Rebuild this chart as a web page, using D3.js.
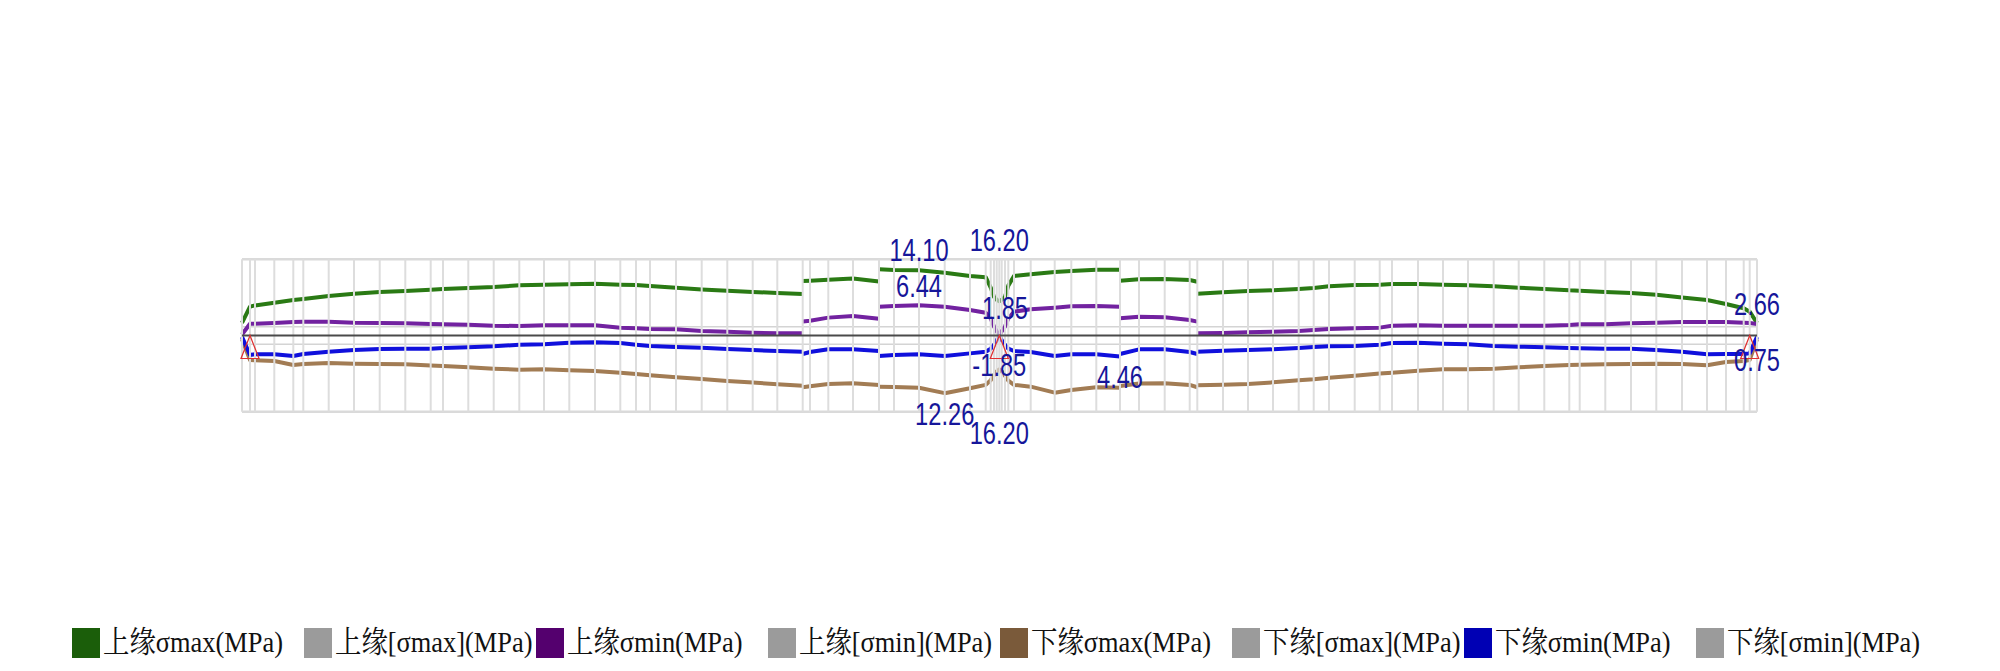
<!DOCTYPE html>
<html><head><meta charset="utf-8">
<script src="https://cdn.jsdelivr.net/npm/d3@7"></script>
<style>body{margin:0;background:#fff}svg{display:block}</style>
</head><body><svg id="c" width="2000" height="671"></svg>
<script>
// node stations along the beam (element boundaries)
const stations = [0,8,13,32.3,51.3,61.3,86.7,112,137.7,163.3,188.7,201,226.3,251.7,277.3,302,327.3,353,378.3,394,408,434,459.7,485.3,510.7,535.3,560.7,568,586.3,611,637,652,677,702.7,728,743.7,748.7,752,754.7,757.3,759.7,763,766.3,772,788.7,812.7,829.3,854.3,878,897,922.7,947.7,955.3,981,1006,1031,1056.7,1071.7,1087,1112.7,1137.7,1150,1176,1201,1226,1251.7,1276.7,1302.3,1327.3,1337.7,1363.3,1389,1414.3,1440,1465,1484,1501.7,1507.7,1515];
// [left,right] pairs mark a jump at that station
const upperMax = [2.66,6.13,6.4,6.98,7.55,7.76,8.4,8.9,9.25,9.46,9.74,9.9,10.1,10.3,10.67,10.8,10.88,11.0,10.8,10.74,10.5,10.17,9.8,9.5,9.25,9.04,[8.8,11.59],11.66,11.87,12.1,[11.5,14.1],13.95,13.85,13.36,12.65,12.4,10.2,8.2,7.6,7.3,7.6,8.2,10.6,12.65,13.0,13.5,13.7,14.0,[14.0,11.66],11.94,12.0,11.8,[11.44,8.9],9.18,9.46,9.6,9.89,10.1,10.45,10.74,10.8,10.95,10.95,10.8,10.67,10.45,10.17,9.89,9.6,9.53,9.25,9.04,8.68,8.1,7.55,6.7,5.8,5.07,2.66];
const upperMin = [0.2,2.5,2.5,2.66,2.87,2.94,2.94,2.73,2.66,2.59,2.45,2.37,2.3,2.09,2.02,2.16,2.16,2.16,1.67,1.52,1.38,1.31,0.96,0.82,0.6,0.46,[0.46,3.0],3.15,3.8,4.15,[3.58,6.13],6.27,6.44,6.13,5.42,4.85,3.6,1.9,0.9,0,0.9,1.9,3.6,5.07,5.56,5.9,6.2,6.27,[6.13,3.65],4.0,3.86,3.3,[2.94,0.46],0.53,0.67,0.82,0.96,1.17,1.38,1.52,1.67,2.09,2.16,2.09,2.09,2.09,2.09,2.09,2.23,2.37,2.37,2.59,2.73,2.87,2.87,2.87,2.73,2.66,2.45,0.2];
const lowerMax = [-0.75,-5.2,-5.28,-5.42,-6.27,-6.06,-5.85,-5.99,-6.06,-6.13,-6.4,-6.48,-6.77,-7.05,-7.26,-7.2,-7.4,-7.55,-7.9,-8.2,-8.47,-8.9,-9.25,-9.67,-10.0,-10.38,[-10.67,-11.0],-10.8,-10.3,-10.17,[-10.5,-10.88],-10.95,-11.1,-12.26,-11.23,-10.5,-9.5,-8.4,-7.6,-7.2,-7.6,-8.6,-9.6,-10.5,-10.88,-12.15,-11.6,-11.0,[-11.1,-10.74],-10.2,-10.17,-10.5,[-11.0,-10.6],-10.45,-10.3,-9.96,-9.53,-9.32,-8.96,-8.54,-8.1,-7.9,-7.48,-7.2,-7.2,-7.05,-6.77,-6.48,-6.27,-6.2,-6.13,-6.06,-5.99,-6.06,-6.34,-5.63,-5.42,-5.2,-0.75];
const lowerMin = [-0.3,-4.14,-4.0,-4.0,-4.36,-3.93,-3.44,-3.08,-2.87,-2.8,-2.8,-2.66,-2.52,-2.3,-1.95,-1.88,-1.52,-1.45,-1.6,-1.95,-2.23,-2.45,-2.59,-2.87,-3.08,-3.3,[-3.44,-3.93],-3.5,-2.94,-2.94,[-3.3,-4.36],-4.14,-4.0,-4.36,-3.8,-3.44,-2.8,-2.0,-1.0,0,-1.0,-2.0,-2.8,-3.3,-3.5,-4.36,-4.0,-4.0,[-4.46,-3.93],-2.94,-2.94,-3.5,[-3.93,-3.44],-3.22,-3.08,-2.94,-2.66,-2.45,-2.3,-2.23,-1.95,-1.6,-1.52,-1.74,-1.88,-2.23,-2.37,-2.52,-2.66,-2.73,-2.8,-2.8,-3.08,-3.44,-4.0,-3.93,-3.93,-3.8,-0.3];
// allowable stresses (plotted values)
const allowLevels = [16.2, 1.85, -1.85, -16.2];
const yDomain = [-16.2, 16.2];
const supports = [8, 757.3, 1507.7];
const labelTexts = ["16.20","14.10","6.44","1.85","-1.85","12.26","16.20","4.46","2.66","0.75"];
const labelStations = [757.3,677,677,763,757.3,702.7,757.3,878,1515,1515];
const labelValues = [16.2,14.1,6.44,1.85,-1.85,-12.26,-16.2,-4.46,2.66,-0.75];
const legendNames = ["上缘σmax(MPa)","上缘[σmax](MPa)","上缘σmin(MPa)","上缘[σmin](MPa)","下缘σmax(MPa)","下缘[σmax](MPa)","下缘σmin(MPa)","下缘[σmin](MPa)"];
const legendColors = ["#1b5e0a","#9b9b9b","#54006e","#9b9b9b","#7a5a3a","#9b9b9b","#0000b4","#9b9b9b"];

const svg = d3.select("#c");
svg.append("rect").attr("width",2000).attr("height",671).attr("fill","#fff");
const x = d3.scaleLinear().domain([0,1515]).range([242,1757]);
const y = d3.scaleLinear().domain(yDomain).range([411.7,259.3]);

// allowable lines
svg.append("g").selectAll("line").data(allowLevels).join("line")
  .attr("x1",x(0)).attr("x2",x(1515)).attr("y1",d=>y(d)).attr("y2",d=>y(d))
  .attr("stroke",d=>Math.abs(d)>10?"#dadada":"#d4d4d4").attr("stroke-width",d=>Math.abs(d)>10?2.5:1.5);

function segments(vals){
  const segs=[]; let cur=[];
  stations.forEach((s,i)=>{
    const v=vals[i];
    if(Array.isArray(v)){cur.push([s,v[0]]);segs.push(cur);cur=[[s,v[1]]];}
    else cur.push([s,v]);
  });
  segs.push(cur); return segs;
}
const line = d3.line().x(d=>x(d[0])).y(d=>y(d[1]));
const series = [
  {vals:upperMax,color:"#2a7a14"},
  {vals:upperMin,color:"#7222a0"},
  {vals:lowerMax,color:"#a27c54"},
  {vals:lowerMin,color:"#1010dc"}
];
series.forEach(s=>{
  svg.append("g").selectAll("path").data(segments(s.vals)).join("path")
    .attr("d",line).attr("fill","none").attr("stroke",s.color)
    .attr("stroke-width",4).attr("stroke-linejoin","round");
});

// vertical grid (element boundaries)
svg.append("g").selectAll("line").data(stations).join("line")
  .attr("x1",d=>x(d)).attr("x2",d=>x(d)).attr("y1",y(16.2)).attr("y2",y(-16.2))
  .attr("stroke","#dddddd").attr("stroke-width",2);

// zero line
svg.append("line").attr("x1",x(0)).attr("x2",x(1515)).attr("y1",y(0)).attr("y2",y(0))
  .attr("stroke","#4a4a4a").attr("stroke-width",2);

// supports
svg.append("g").selectAll("path").data(supports).join("path")
  .attr("d",d=>{const cx=x(d),cy=y(0);return `M${cx},${cy}L${cx-9},${cy+23}L${cx+9},${cy+23}Z`;})
  .attr("fill","none").attr("stroke","#e03030").attr("stroke-width",1.2);

// value labels
const lg = svg.append("g");
labelTexts.forEach((t,i)=>{
  const v=labelValues[i];
  const by = v>=0 ? y(v)-8 : y(v)+32;
  lg.append("text").attr("transform",`translate(${x(labelStations[i])},${by}) scale(0.74,1)`)
    .attr("text-anchor","middle").attr("font-family","Liberation Sans, Arial, sans-serif")
    .attr("font-size",32).attr("fill","#16169a").text(t);
});

// legend
const itemW = 232, startX = 1000 - itemW*legendNames.length/2;
const leg = svg.append("g");
let k = null;
legendNames.forEach((n,i)=>{
  const gx = startX + i*itemW;
  leg.append("rect").attr("x",gx).attr("y",628).attr("width",28).attr("height",30).attr("fill",legendColors[i]);
  const t = leg.append("text").attr("font-family","Liberation Serif, 'Noto Serif CJK SC', 'Noto Sans CJK SC', serif")
    .attr("font-size",30).attr("fill","#111").text(n);
  if(k===null){k = 180 / t.node().getComputedTextLength();}
  t.attr("transform",`translate(${gx+31},652) scale(${k},1)`);
});
</script></body></html>
